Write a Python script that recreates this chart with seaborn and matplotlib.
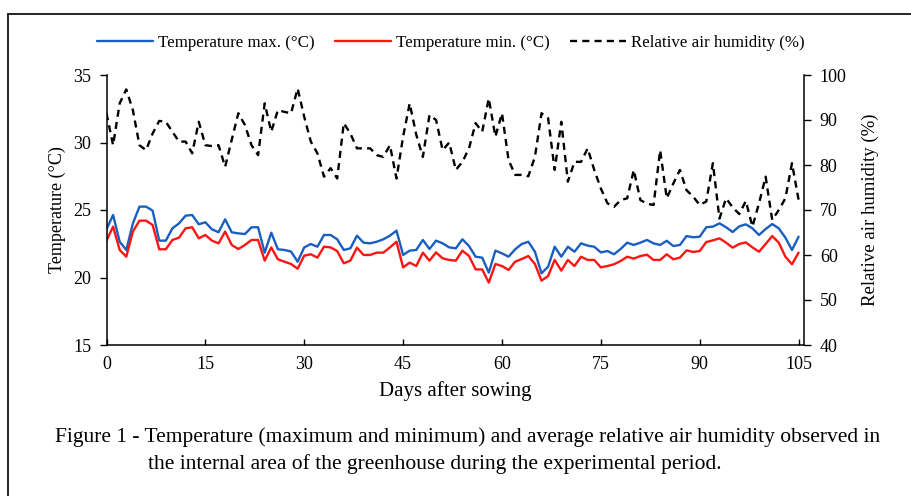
import numpy as np
import pandas as pd
import matplotlib
matplotlib.use("Agg")
import matplotlib.pyplot as plt
from matplotlib.lines import Line2D
import seaborn as sns

days = list(range(0, 106))

temp_max = [23.57, 24.63, 22.65, 22.04, 24.00, 25.25, 25.25, 24.95, 22.73, 22.73,
            23.64, 24.01, 24.58, 24.63, 23.94, 24.09, 23.57, 23.35, 24.31, 23.35,
            23.27, 23.22, 23.72, 23.72, 21.84, 23.32, 22.09, 22.04, 21.92, 21.17,
            22.23, 22.48, 22.28, 23.15, 23.15, 22.83, 22.04, 22.16, 23.10, 22.58,
            22.53, 22.65, 22.83, 23.10, 23.47, 21.67, 21.99, 22.04, 22.78, 22.11,
            22.73, 22.53, 22.23, 22.16, 22.83, 22.33, 21.54, 21.47, 20.36, 21.99,
            21.79, 21.54, 22.09, 22.48, 22.65, 21.91, 20.31, 20.80, 22.28, 21.54,
            22.28, 21.91, 22.53, 22.36, 22.28, 21.86, 21.96, 21.72, 22.11, 22.58,
            22.41, 22.58, 22.78, 22.53, 22.41, 22.72, 22.33, 22.41, 23.07, 22.98,
            23.02, 23.72, 23.77, 24.01, 23.72, 23.37, 23.79, 23.94, 23.64, 23.15,
            23.59, 23.96, 23.64, 22.95, 22.04, 23.02]

temp_min = [22.73, 23.77, 22.04, 21.54, 23.40, 24.21, 24.21, 23.89, 22.09, 22.09,
            22.78, 22.95, 23.64, 23.72, 22.90, 23.15, 22.73, 22.53, 23.40, 22.41,
            22.11, 22.41, 22.78, 22.78, 21.25, 22.23, 21.35, 21.17, 21.00, 20.65,
            21.62, 21.72, 21.47, 22.28, 22.23, 21.96, 21.05, 21.25, 22.21, 21.67,
            21.67, 21.84, 21.84, 22.23, 22.65, 20.75, 21.10, 20.85, 21.84, 21.25,
            21.86, 21.42, 21.30, 21.25, 21.99, 21.59, 20.60, 20.60, 19.62, 21.00,
            20.85, 20.56, 21.17, 21.37, 21.59, 21.00, 19.77, 20.11, 21.30, 20.51,
            21.30, 20.85, 21.54, 21.30, 21.30, 20.75, 20.85, 20.98, 21.22, 21.54,
            21.40, 21.59, 21.69, 21.30, 21.30, 21.72, 21.35, 21.47, 22.01, 21.89,
            21.96, 22.63, 22.75, 22.90, 22.58, 22.21, 22.48, 22.60, 22.23, 21.91,
            22.48, 23.07, 22.58, 21.54, 20.98, 21.84]

humidity = [91.5, 84.4, 93.7, 96.8, 92.2, 84.4, 83.3, 87.0, 89.8, 89.6,
            87.4, 85.2, 85.2, 82.6, 89.6, 84.4, 84.2, 84.4, 79.6, 85.6,
            91.5, 88.9, 84.4, 82.2, 93.7, 87.4, 92.2, 91.8, 91.5, 97.0,
            90.7, 85.2, 82.6, 77.4, 79.3, 77.0, 89.3, 87.0, 83.7, 83.7,
            83.7, 82.2, 81.8, 84.4, 77.0, 86.3, 93.7, 86.7, 81.8, 91.1,
            90.0, 83.3, 85.0, 78.9, 80.7, 83.7, 89.3, 87.4, 94.8, 86.3,
            91.5, 81.1, 77.8, 77.8, 77.5, 81.8, 91.5, 90.4, 78.9, 89.6,
            76.3, 80.7, 80.7, 83.7, 78.9, 74.8, 71.5, 70.7, 72.2, 72.6,
            78.9, 72.2, 71.4, 71.1, 83.3, 72.6, 75.9, 78.9, 74.4, 73.0,
            71.1, 71.9, 80.4, 68.1, 72.6, 70.6, 69.1, 72.0, 66.3, 71.5,
            77.4, 67.8, 70.0, 72.6, 80.4, 72.3]

x_ticks = [0, 15, 30, 45, 60, 75, 90, 105]
temp_ticks = [15, 20, 25, 30, 35]
hum_ticks = [40, 50, 60, 70, 80, 90, 100]

series_names = ["Temperature max. (°C)", "Temperature min. (°C)", "Relative air humidity (%)"]
x_label = "Days after sowing"
y_left_label = "Temperature (°C)"
y_right_label = "Relative air humidity (%)"
caption_1 = "Figure 1 - Temperature (maximum and minimum) and average relative air humidity observed in"
caption_2 = "the internal area of the greenhouse during the experimental period."

sns.set_theme(style="white")
plt.rcParams["font.family"] = ["Liberation Serif", "DejaVu Serif"]
plt.rcParams["text.color"] = "black"
plt.rcParams["axes.labelcolor"] = "black"
plt.rcParams["xtick.color"] = "black"
plt.rcParams["ytick.color"] = "black"

BLUE = "#1a5fc0"
RED = "#ff1414"

df = pd.DataFrame({"day": days, "tmax": temp_max, "tmin": temp_min, "hum": humidity})

fig = plt.figure(figsize=(9.11, 4.96), dpi=100)
ax = fig.add_axes([106.5 / 911, 1 - 345 / 496, 698 / 911, 270 / 496])
ax2 = ax.twinx()

sns.lineplot(data=df, x="day", y="tmax", ax=ax, color=BLUE, lw=1.7)
sns.lineplot(data=df, x="day", y="tmin", ax=ax, color=RED, lw=1.7)
sns.lineplot(data=df, x="day", y="hum", ax=ax2, color="black", lw=1.7)
ax2.lines[0].set_dashes([3.0, 2.2])

ax.set_xlim(0, 105.9)
ax.set_ylim(15, 35)
ax2.set_ylim(40, 100)
ax.set_xticks(x_ticks)
ax.set_yticks(temp_ticks)
ax2.set_yticks(hum_ticks)

for a in (ax, ax2):
    for s in a.spines.values():
        s.set_visible(False)
    a.grid(False)
ax.spines["left"].set_visible(True)
ax.spines["bottom"].set_visible(True)
ax2.spines["right"].set_visible(True)
for s in (ax.spines["left"], ax.spines["bottom"], ax2.spines["right"]):
    s.set_color("black")
    s.set_linewidth(1.1)

ax.tick_params(axis="x", direction="in", length=4, width=1, colors="black",
               labelsize=13, pad=8, bottom=True)
ax.tick_params(axis="y", direction="out", length=5, width=1, colors="black",
               labelsize=13, pad=6, left=True)
ax2.tick_params(axis="y", direction="out", length=5, width=1, colors="black",
                labelsize=13, pad=6, right=True)

ax.set_xlabel(x_label, fontsize=15, labelpad=6)
ax.set_ylabel(y_left_label, fontsize=13, labelpad=5)
ax2.set_ylabel(y_right_label, fontsize=13.5, labelpad=11)

handles = [Line2D([], [], color=BLUE, lw=1.7),
           Line2D([], [], color=RED, lw=1.7),
           Line2D([], [], color="black", lw=1.7, dashes=[3.0, 2.2])]
fig.legend(handles, series_names, loc="center", bbox_to_anchor=(0.495, 0.913),
           ncol=3, frameon=False, fontsize=12.2, handlelength=3.3,
           handletextpad=0.3, columnspacing=1.2)

fig.text(55 / 911, 1 - 437 / 496, caption_1, ha="left", va="center", fontsize=15.5)
fig.text(148 / 911, 1 - 464 / 496, caption_2, ha="left", va="center", fontsize=15.5)

fig.add_artist(Line2D([8 / 911, 8 / 911], [0, 1 - 14 / 496], color="black", lw=1.2,
                      transform=fig.transFigure))
fig.add_artist(Line2D([8 / 911, 1], [1 - 14 / 496, 1 - 14 / 496], color="black", lw=1.2,
                      transform=fig.transFigure))

fig.savefig("out.png", dpi=100)
